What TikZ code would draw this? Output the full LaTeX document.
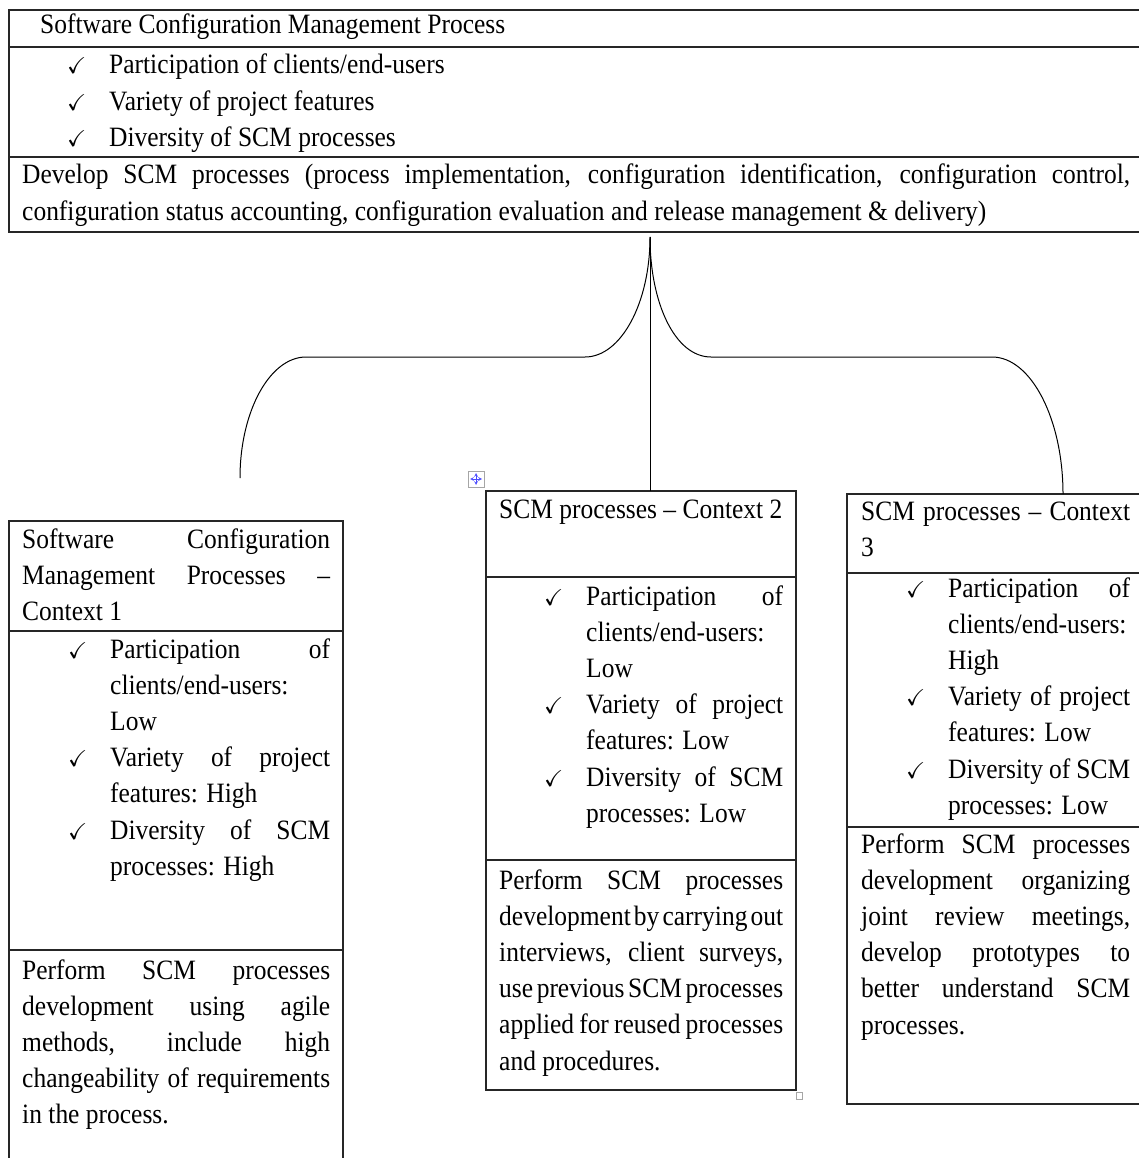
\documentclass[tikz,border=0pt]{standalone}
\usepackage{amssymb}
\usepackage{fontspec}
\setmainfont{Liberation Serif}[FakeStretch=0.91]
\usepackage{tikz}
\usetikzlibrary{positioning}
\usetikzlibrary{arrows}
\usetikzlibrary{calc}

\tolerance=10000
\hbadness=10000
\hyphenpenalty=10000
\exhyphenpenalty=10000

\newcommand{\cellfont}{\fontsize{28}{36.2}\selectfont\spaceskip=6.4pt plus 7pt minus 5pt\relax}
\newcommand{\chkmark}{{\fontsize{23}{23}\selectfont$\boldsymbol{\checkmark}$}}
\newcommand{\chkitem}[1]{\noindent\hangindent=42pt\hangafter=1\makebox[42pt][l]{\chkmark}#1\par}

\tikzstyle{cell}=[draw=black!85,line width=1.3pt,anchor=north west,inner sep=0pt,outer sep=0pt]
\tikzstyle{celltext}=[anchor=base west,inner sep=0pt,font=\cellfont,align=justify]
\tikzstyle{brace}=[draw,line width=1pt]
\tikzstyle{handle}=[draw=black!35,fill=white,line width=0.8pt]

\usepackage{bm}
\let\boldsymbol\bm

\begin{document}
\begin{tikzpicture}[x=1pt,y=-1pt]

    \useasboundingbox (0,0) rectangle (1139,1158);
    \clip (0,0) rectangle (1139,1158);

    % table cells
    \foreach \pos/\w/\h/\name in {{(9,10)/1141/37/tophead}, {(9,47)/1141/110/toplist}, {(9,157)/1141/75/topdev},
        {(9,521)/334/110/c1head}, {(9,631)/334/319/c1list}, {(9,950)/334/230/c1perf},
        {(486,491)/310/86/c2head}, {(486,577)/310/283/c2list}, {(486,860)/310/230/c2perf},
        {(847,494)/303/79/c3head}, {(847,573)/303/254/c3list}, {(847,827)/303/277/c3perf}}
        \node[cell,minimum width=\w,minimum height=\h] (\name) at \pos {};

    % top table
    \node[celltext,text width=1000] (ttitle) at (40,34) {Software Configuration Management Process};
    \node[celltext,text width=700] (tlist) at (67,74) {\chkitem{Participation of clients/end-users}\chkitem{Variety of project features}\chkitem{Diversity of SCM processes}};
    \node[celltext,text width=1108] (tdev) at (22,184) {Develop SCM processes (process implementation, configuration identification, configuration control,\linebreak configuration status accounting, configuration evaluation and release management \& delivery)};

    % context 1
    \node[celltext,text width=308] (t1head) at (22,548) {Software Configuration\linebreak Management Processes --\linebreak Context 1};
    \node[celltext,text width=262] (t1list) at (68,658) {\chkitem{Participation of\linebreak clients/end-users:\linebreak Low}\chkitem{Variety of project\linebreak features: High}\chkitem{Diversity of SCM\linebreak processes: High}};
    \node[celltext,text width=308] (t1perf) at (22,979) {Perform SCM processes\linebreak development using agile\linebreak methods, include high\linebreak changeability of requirements\linebreak in the process.};

    % context 2
    \node[celltext,text width=284] (t2head) at (499,518) {SCM processes -- Context 2};
    \node[celltext,text width=239] (t2list) at (544,605) {\chkitem{Participation of\linebreak clients/end-users:\linebreak Low}\chkitem{Variety of project\linebreak features: Low}\chkitem{Diversity of SCM\linebreak processes: Low}};
    \node[celltext,text width=284] (t2perf) at (499,889) {Perform SCM processes\linebreak development by carrying out\linebreak interviews, client surveys,\linebreak use previous SCM processes\linebreak applied for reused processes\linebreak and procedures.};

    % context 3
    \node[celltext,text width=269] (t3head) at (861,520) {SCM processes -- Context\linebreak 3};
    \node[celltext,text width=224] (t3list) at (906,597) {\chkitem{Participation of\linebreak clients/end-users:\linebreak High}\chkitem{Variety of project\linebreak features: Low}\chkitem{Diversity of SCM\linebreak processes: Low}};
    \node[celltext,text width=269] (t3perf) at (861,853) {Perform SCM processes\linebreak development organizing\linebreak joint review meetings,\linebreak develop prototypes to\linebreak better understand SCM\linebreak processes.};

    % brace from the top table to the three contexts
    \coordinate (tip) at (650,237);
    \coordinate (lend) at (240,478);
    \coordinate (rend) at ([xshift=216pt]c3head.north west);
    \draw[brace] (lend) .. controls (240,411) and (270,357) .. (306,357) -- (585,357) .. controls (621,357) and (650,303) .. (tip);
    \draw[brace] (tip) .. controls (650,303) and (675,357) .. (711,357) -- (992,357) .. controls (1031,357) and (1063,419) .. (rend);
    \draw[brace] (tip) -- (tip |- c2head.north);

    % word handles
    \draw[handle] (468,471) rectangle (484,487);
    \draw[blue!70,line width=0.7pt,stealth-stealth] (476,473) -- (476,485);
    \draw[blue!70,line width=0.7pt,stealth-stealth] (470,479) -- (482,479);
    \draw[handle] (796,1092) rectangle (802,1099);

\end{tikzpicture}
\end{document}
